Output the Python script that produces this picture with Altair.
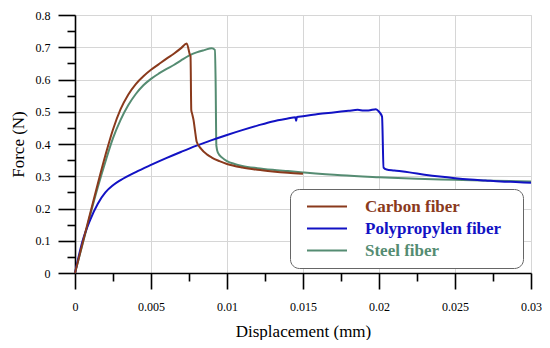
import altair as alt
import pandas as pd

# ---- data ----
series_names = ["Carbon fiber", "Polypropylen fiber", "Steel fiber"]
series_colors = ["#8a3a1c", "#1212c4", "#558c72"]

carbon_x = [0, 0.0005, 0.001, 0.0015, 0.002, 0.0025, 0.003, 0.0035, 0.004, 0.0045,
            0.005, 0.0055, 0.006, 0.0065, 0.007, 0.00735, 0.00755, 0.0076, 0.00765,
            0.0077, 0.0078, 0.0079, 0.008, 0.0083, 0.0087, 0.009, 0.0095, 0.010,
            0.011, 0.012, 0.013, 0.014, 0.015]
carbon_y = [0, 0.093, 0.185, 0.277, 0.365, 0.445, 0.508, 0.553, 0.586, 0.61,
            0.63, 0.647, 0.664, 0.68, 0.698, 0.712, 0.678, 0.672, 0.505,
            0.495, 0.474, 0.44, 0.408, 0.385, 0.367, 0.358, 0.347, 0.338,
            0.327, 0.32, 0.315, 0.311, 0.308]

pp_x = [0, 0.0005, 0.001, 0.0015, 0.002, 0.0025, 0.003, 0.004, 0.005, 0.006,
        0.007, 0.008, 0.009, 0.010, 0.011, 0.012, 0.013, 0.014, 0.0145, 0.01455,
        0.0146, 0.015, 0.016, 0.017, 0.018, 0.0186, 0.019, 0.0193, 0.0198, 0.020,
        0.0202, 0.0203, 0.0205, 0.021, 0.022, 0.023, 0.024, 0.025, 0.026, 0.027,
        0.028, 0.029, 0.030]
pp_y = [0, 0.1, 0.165, 0.215, 0.25, 0.272, 0.288, 0.313, 0.335, 0.356,
        0.376, 0.395, 0.412, 0.428, 0.443, 0.457, 0.47, 0.479, 0.483, 0.472,
        0.484, 0.486, 0.493, 0.498, 0.503, 0.506, 0.504, 0.504, 0.508, 0.5,
        0.485, 0.327, 0.321, 0.318, 0.312, 0.305, 0.299, 0.294, 0.29, 0.287,
        0.284, 0.282, 0.28]

steel_x = [0, 0.0005, 0.001, 0.0015, 0.002, 0.0025, 0.003, 0.0035, 0.004, 0.0045,
           0.005, 0.0055, 0.006, 0.0065, 0.007, 0.0075, 0.008, 0.0085, 0.009,
           0.0092, 0.00925, 0.0093, 0.0094, 0.0097, 0.010, 0.0105, 0.011, 0.012,
           0.013, 0.014, 0.015, 0.0175, 0.020, 0.0225, 0.025, 0.0275, 0.030]
steel_y = [0, 0.09, 0.18, 0.266, 0.345, 0.418, 0.475, 0.52, 0.555, 0.582,
           0.602, 0.618, 0.632, 0.645, 0.66, 0.674, 0.684, 0.691, 0.697,
           0.692, 0.6, 0.395, 0.373, 0.357, 0.347, 0.338, 0.332, 0.325,
           0.32, 0.316, 0.312, 0.303, 0.297, 0.292, 0.289, 0.286, 0.284]

x_major = [0, 0.005, 0.01, 0.015, 0.02, 0.025, 0.03]
x_minor = [0.0025, 0.0075, 0.0125, 0.0175, 0.0225, 0.0275]
y_major = [0, 0.1, 0.2, 0.3, 0.4, 0.5, 0.6, 0.7, 0.8]
y_minor = [0.05, 0.15, 0.25, 0.35, 0.45, 0.55, 0.65, 0.75]

# draw order: steel, polypropylen, carbon (carbon on top)
rows = []
for name, xs, ys in [("Steel fiber", steel_x, steel_y),
                     ("Polypropylen fiber", pp_x, pp_y),
                     ("Carbon fiber", carbon_x, carbon_y)]:
    for i, (xv, yv) in enumerate(zip(xs, ys)):
        rows.append({"x": xv, "y": yv, "series": name, "order": i})
df = pd.DataFrame(rows)

FONT = "Liberation Serif"
xscale = alt.Scale(domain=[0, 0.03], nice=False, zero=False)
yscale = alt.Scale(domain=[0, 0.8], nice=False)

label_color_expr = ("datum.value == 'Carbon fiber' ? '%s' : datum.value == 'Polypropylen fiber' ? '%s' : '%s'"
                    % tuple(series_colors))

major_x = alt.Axis(values=x_major, format="~g", grid=True, gridColor="#d6d6d6", gridWidth=1,
                   domainColor="black", domainWidth=1.6, tickColor="black", tickWidth=1.6,
                   tickSize=16, labelFont=FONT, labelFontSize=12, labelColor="black",
                   labelPadding=12, labelFlush=False, labelOverlap=False,
                   title="Displacement (mm)", titleFont=FONT, titleFontSize=17,
                   titleFontWeight="normal", titleColor="black", titlePadding=11,
                   orient="bottom")
major_y = alt.Axis(values=y_major, format="~g", grid=True, gridColor="#d6d6d6", gridWidth=1,
                   domainColor="black", domainWidth=1.6, tickColor="black", tickWidth=1.6,
                   tickSize=17, labelFont=FONT, labelFontSize=12, labelColor="black",
                   labelPadding=8, labelFlush=False, labelOverlap=False,
                   title="Force (N)", titleFont=FONT, titleFontSize=17,
                   titleFontWeight="normal", titleColor="black", titlePadding=8,
                   orient="left")
minor_x = alt.Axis(values=x_minor, labels=False, grid=False, domain=False, tickSize=8,
                   tickColor="black", tickWidth=1.6, title=None, orient="bottom")
minor_y = alt.Axis(values=y_minor, labels=False, grid=False, domain=False, tickSize=8,
                   tickColor="black", tickWidth=1.6, title=None, orient="left")

lines = alt.Chart(df).mark_line(strokeWidth=2, interpolate="monotone").encode(
    x=alt.X("x:Q", scale=xscale, axis=major_x),
    y=alt.Y("y:Q", scale=yscale, axis=major_y),
    order="order:Q",
    color=alt.Color(
        "series:N",
        scale=alt.Scale(domain=series_names, range=series_colors),
        legend=alt.Legend(
            orient="none", legendX=215, legendY=174, title=None,
            symbolType="stroke", symbolSize=1600, symbolStrokeWidth=2,
            symbolOffset=7,
            clipHeight=17, rowPadding=4, padding=9, labelOffset=17,
            labelFont=FONT, labelFontSize=17, labelFontWeight="bold",
            labelLimit=300,
            labelColor={"expr": label_color_expr},
            labelExpr="datum.label + '\u2800'",
            strokeColor="#666666", fillColor="white", cornerRadius=9,
        ),
    ),
)

minor = alt.Chart(df).mark_point(opacity=0).encode(
    x=alt.X("x:Q", scale=xscale, axis=minor_x),
    y=alt.Y("y:Q", scale=yscale, axis=minor_y),
)

chart = alt.layer(lines, minor).resolve_axis(
    x="independent", y="independent"
).properties(
    width=456, height=258,
    autosize=alt.AutoSizeParams(type="none"),
    padding={"left": 67, "top": 7, "right": 11, "bottom": 67},
).configure_view(stroke=None).configure(background="white")

chart.save("out.html", embed_options={"renderer": "svg", "actions": False})
